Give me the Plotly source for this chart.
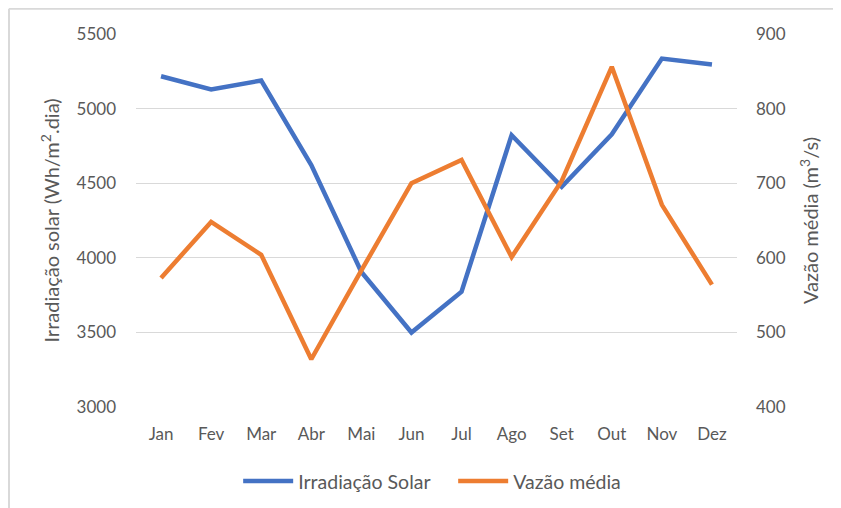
import plotly.graph_objects as go

months = ["Jan", "Fev", "Mar", "Abr", "Mai", "Jun", "Jul", "Ago", "Set", "Out", "Nov", "Dez"]
irradiacao = [5217, 5128, 5188, 4621, 3905, 3499, 3773, 4822, 4476, 4828, 5335, 5295]
vazao = [573, 648, 604, 464, 583, 700, 731, 601, 703, 856, 671, 564]

left_ticks = [3000, 3500, 4000, 4500, 5000, 5500]
right_ticks = [400, 500, 600, 700, 800, 900]

BLUE = "#4472C4"
ORANGE = "#ED7D31"
GRID = "#D9D9D9"
TXT = "#595959"
FONT = "Lato, 'Open Sans', sans-serif"

fig = go.Figure()
fig.add_trace(go.Scatter(x=months, y=irradiacao, name="Irradiação Solar", mode="lines",
                         line=dict(color=BLUE, width=4.5), yaxis="y"))
fig.add_trace(go.Scatter(x=months, y=vazao, name="Vazão média", mode="lines",
                         line=dict(color=ORANGE, width=4.5), yaxis="y2"))

fig.update_layout(
    width=841, height=508,
    margin=dict(l=128, r=112, t=26, b=109, autoexpand=False),
    paper_bgcolor="white", plot_bgcolor="white",
    font=dict(family=FONT, size=17, color=TXT),
    showlegend=True,
    legend=dict(orientation="h", x=0.170, xanchor="left", y=-0.199, yanchor="middle",
                font=dict(size=19.5, color=TXT), itemwidth=50, tracegroupgap=0,
                entrywidth=150, entrywidthmode="pixels"),
    xaxis=dict(type="category", range=[-0.5, 11.5], showgrid=False, showline=False,
               zeroline=False, ticks="", ticklabelstandoff=15, automargin=False,
               tickfont=dict(size=17, color=TXT)),
    yaxis=dict(range=[3000, 5500], tickvals=left_ticks, showgrid=True, gridcolor=GRID,
               gridwidth=1.3, zeroline=False, showline=False, ticks="", automargin=False,
               ticklabelstandoff=19, tickfont=dict(size=17, color=TXT),
               title=dict(text="Irradiação solar (Wh/m<sup>2</sup>.dia)", standoff=11,
                          font=dict(size=20, color=TXT))),
    yaxis2=dict(range=[400, 900], tickvals=right_ticks, overlaying="y", side="right",
                showgrid=False, zeroline=False, showline=False, ticks="", automargin=False,
                ticklabelstandoff=18, tickfont=dict(size=17, color=TXT),
                title=dict(text="Vazão média (m<sup>3</sup>/s)", standoff=19,
                           font=dict(size=20, color=TXT))),
    shapes=[
        dict(type="line", xref="paper", yref="paper", x0=-0.2113, x1=1.3, y0=1.0675, y1=1.0675,
             line=dict(color=GRID, width=2)),
        dict(type="line", xref="paper", yref="paper", x0=-0.2113, x1=-0.2113, y0=1.0675, y1=-0.3,
             line=dict(color=GRID, width=2)),
    ],
)

fig.write_html("out.html")
